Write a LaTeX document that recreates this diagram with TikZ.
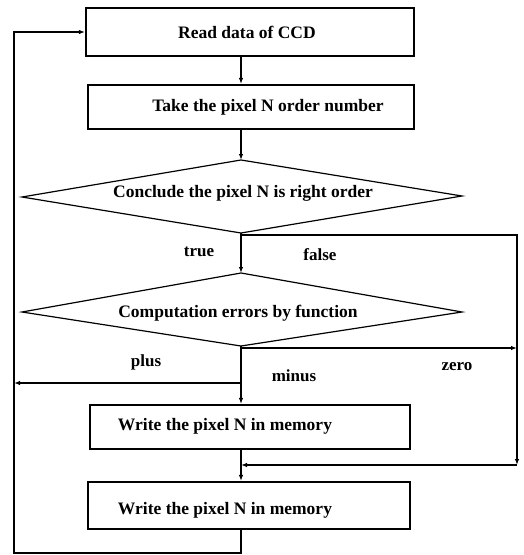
\documentclass[tikz,border=0pt]{standalone}
\usepackage{fontspec}
\setmainfont{Liberation Serif}
\usetikzlibrary{arrows.meta}
\begin{document}
\begin{tikzpicture}[x=1pt,y=-1pt,
  box/.style={draw,line width=2.2pt,rectangle,inner sep=0pt},
  txt/.style={inner sep=0pt,font=\fontsize{17.5}{20}\selectfont\bfseries},
  lbl/.style={inner sep=0pt,font=\fontsize{17}{19}\selectfont\bfseries},
  conn/.style={line width=1.4pt},
  arr/.style={conn,-{Latex[length=6pt,width=4.5pt]}},
  dia/.style={line width=1.2pt}]
\useasboundingbox (0,0) rectangle (524,555);
\coordinate (cx) at (241,0);
\coordinate (lx) at (14,0);
\coordinate (rx) at (517,0);
% boxes
\node[box,minimum width=328pt,minimum height=48pt] (b1) at (250,32) {};
\node[txt] (t1) at (247,32) {Read data of CCD};
\node[box,minimum width=326pt,minimum height=44pt] (b2) at (251,107) {};
\node[txt] (t2) at (268,107) {Take the pixel N order number};
\node[box,minimum width=320pt,minimum height=44pt] (b3) at (250,427) {};
\node[txt] (t3) at (225,426) {Write the pixel N in memory};
\node[box,minimum width=322pt,minimum height=47pt] (b4) at (249,505.5) {};
\node[txt] (t4) at (225,510) {Write the pixel N in memory};
% diamonds
\coordinate (d1t) at (241,160);
\coordinate (d1b) at (241,233);
\coordinate (d1l) at (22,197);
\coordinate (d1r) at (462,196);
\draw[dia] (d1t) -- (d1r) -- (d1b) -- (d1l) -- cycle;
\node[txt] (dt1) at (243,193) {Conclude the pixel N is right order};
\coordinate (d2t) at (241,273);
\coordinate (d2b) at (241,346);
\coordinate (d2l) at (22,312);
\coordinate (d2r) at (462,312);
\draw[dia] (d2t) -- (d2r) -- (d2b) -- (d2l) -- cycle;
\node[txt] (dt2) at (238,313) {Computation errors by function};
% junction coordinates
\coordinate (fj) at (241,235);
\coordinate (zj) at (241,348);
\coordinate (mj) at (241,465);
\coordinate (pj) at (241,383);
\coordinate (bl) at (241,553);
% connectors
\draw[arr] (b1.south -| cx) -- (b2.north -| cx);
\draw[arr] (b2.south -| cx) -- (d1t);
\draw[arr] (d1b) -- (d2t);
\draw[arr] (fj) -- (fj -| rx) -- (mj -| rx);
\draw[arr] (mj -| rx) -- (mj);
\draw[arr] (d2b) -- (b3.north -| cx);
\draw[arr] (zj) -- (zj -| rx);
\draw[arr] (pj) -- (pj -| lx);
\draw[arr] (b3.south -| cx) -- (b4.north -| cx);
\draw[arr] (b4.south -| cx) -- (bl) -- (bl -| lx) -- (b1.west -| lx) -- (b1.west);
% labels
\node[lbl] (ltrue) at (199,252) {true};
\node[lbl] (lfalse) at (320,255) {false};
\node[lbl] (lplus) at (146,362) {plus};
\node[lbl] (lminus) at (294,376) {minus};
\node[lbl] (lzero) at (457,367) {zero};
\end{tikzpicture}
\end{document}
